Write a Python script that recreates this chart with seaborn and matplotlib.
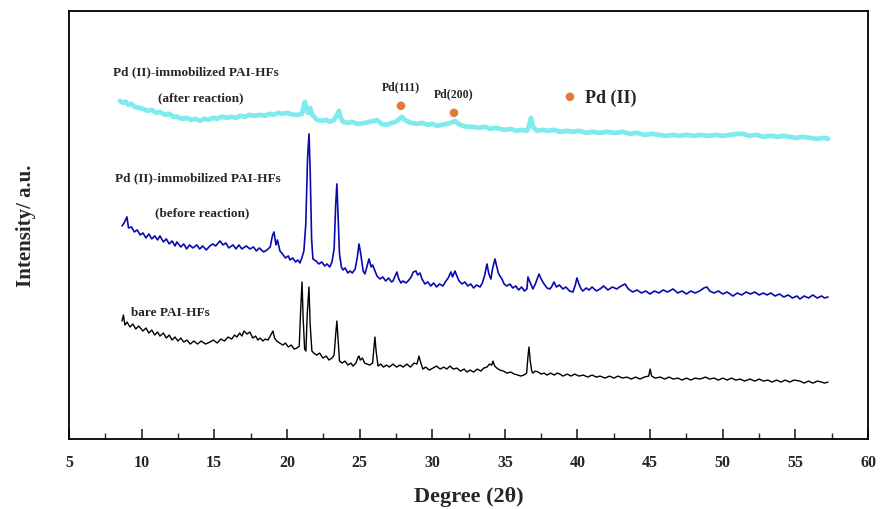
import matplotlib
matplotlib.use("Agg")
import matplotlib.pyplot as plt
import seaborn as sns
import numpy as np
from matplotlib.ticker import MultipleLocator

# XRD traces: (2theta, intensity a.u.) pairs
after_pts = [
    8.51, 338, 8.7, 336, 8.9, 337, 9.1, 334, 9.3, 335, 9.5, 332, 9.8, 331, 10.09, 330,
    10.4, 328, 10.7, 329, 11.0, 326, 11.26, 327, 11.6, 324, 11.9, 325, 12.2, 322, 12.43, 322,
    12.8, 320, 13.1, 321, 13.4, 319, 13.7, 320, 14.02, 318, 14.3, 320, 14.6, 319, 14.9, 321,
    15.2, 320, 15.5, 322, 15.87, 321, 16.2, 322, 16.5, 321, 16.8, 323, 17.1, 322, 17.4, 324,
    17.8, 323, 18.15, 324, 18.5, 323, 18.8, 325, 19.1, 324, 19.4, 326, 19.7, 325, 20.0, 326,
    20.21, 325, 20.5, 324, 20.8, 324, 21.04, 325, 21.14, 332, 21.24, 337, 21.34, 329, 21.45, 326,
    21.59, 331, 21.75, 324, 22.07, 319, 22.4, 318, 22.7, 319, 22.96, 317, 23.25, 319, 23.45, 324,
    23.58, 328, 23.7, 321, 23.86, 317, 24.2, 316, 24.5, 317, 24.8, 315, 25.03, 315, 25.4, 316,
    25.7, 317, 26.0, 318, 26.2, 319, 26.5, 315, 26.89, 314, 27.2, 316, 27.5, 317, 27.75, 320,
    27.92, 322, 28.1, 319, 28.5, 316, 28.95, 315, 29.3, 316, 29.7, 314, 30.0, 315, 30.33, 313,
    30.7, 314, 31.0, 315, 31.3, 316, 31.57, 318, 31.8, 315, 32.1, 313, 32.39, 312, 32.8, 312,
    33.2, 311, 33.6, 312, 34.0, 310, 34.3, 311, 34.66, 310, 35.0, 309, 35.4, 310, 35.8, 308,
    36.2, 309, 36.52, 308, 36.68, 314, 36.8, 321, 36.93, 312, 37.21, 308, 37.6, 309, 38.0, 308,
    38.4, 309, 38.8, 307, 39.27, 308, 39.7, 307, 40.1, 308, 40.6, 306, 41.0, 307, 41.55, 306,
    42.0, 307, 42.6, 306, 43.13, 307, 43.6, 305, 44.1, 306, 44.6, 304, 45.1, 305, 45.6, 304,
    46.1, 303, 46.57, 304, 47.0, 303, 47.5, 304, 48.0, 303, 48.5, 304, 49.0, 303, 49.5, 304,
    50.01, 303, 50.5, 304, 51.0, 305, 51.39, 305, 51.8, 303, 52.3, 304, 52.8, 302, 53.3, 303,
    53.8, 302, 54.2, 303, 54.62, 302, 55.0, 301, 55.5, 302, 56.0, 301, 56.5, 300, 57.0, 301,
    57.24, 300,
]

before_pts = [
    8.65, 213, 8.8, 216, 8.99, 222, 9.1, 211, 9.3, 212, 9.5, 207, 9.7, 209, 9.9, 204,
    10.09, 206, 10.3, 201, 10.5, 205, 10.7, 200, 10.9, 203, 11.1, 199, 11.26, 203, 11.5, 197,
    11.7, 200, 11.9, 195, 12.1, 198, 12.3, 193, 12.43, 197, 12.7, 192, 12.9, 195, 13.1, 190,
    13.3, 194, 13.53, 191, 13.8, 194, 14.0, 190, 14.2, 193, 14.45, 189, 14.7, 193, 14.9, 195,
    15.1, 193, 15.39, 198, 15.6, 194, 15.8, 196, 16.0, 191, 16.29, 194, 16.5, 190, 16.7, 194,
    16.9, 190, 17.2, 193, 17.46, 190, 17.7, 192, 17.9, 188, 18.1, 191, 18.4, 187, 18.63, 189,
    18.85, 192, 19.0, 203, 19.11, 207, 19.25, 194, 19.35, 199, 19.52, 188, 19.7, 185, 19.9, 181,
    20.1, 183, 20.21, 179, 20.4, 181, 20.6, 177, 20.75, 179, 20.9, 176, 21.05, 182, 21.17, 188,
    21.3, 215, 21.42, 280, 21.52, 305, 21.6, 270, 21.7, 200, 21.79, 180, 22.0, 178, 22.2, 175,
    22.4, 177, 22.6, 173, 22.76, 175, 22.95, 172, 23.1, 177, 23.25, 190, 23.36, 235, 23.44, 255,
    23.52, 225, 23.62, 185, 23.75, 172, 23.86, 169, 24.0, 171, 24.2, 166, 24.34, 168, 24.5, 166,
    24.7, 170, 24.85, 182, 24.96, 195, 25.05, 188, 25.15, 178, 25.25, 168, 25.37, 165, 25.5, 172,
    25.65, 180, 25.8, 172, 25.9, 174, 26.06, 168, 26.2, 163, 26.4, 160, 26.6, 162, 26.8, 158,
    27.0, 161, 27.2, 157, 27.3, 158, 27.45, 163, 27.57, 167, 27.7, 160, 27.85, 156, 27.99, 158,
    28.2, 156, 28.4, 159, 28.55, 162, 28.7, 167, 28.88, 168, 29.0, 164, 29.16, 166, 29.3, 160,
    29.5, 155, 29.7, 157, 29.9, 153, 30.1, 156, 30.3, 152, 30.5, 155, 30.74, 153, 30.9, 157,
    31.1, 161, 31.29, 167, 31.4, 162, 31.57, 168, 31.7, 163, 31.85, 158, 32.05, 155, 32.25, 157,
    32.45, 153, 32.65, 155, 32.85, 151, 33.05, 154, 33.29, 152, 33.45, 156, 33.6, 163, 33.77, 175,
    33.9, 165, 34.04, 160, 34.15, 170, 34.32, 180, 34.45, 172, 34.55, 166, 34.66, 163, 34.8, 160,
    34.95, 155, 35.14, 153, 35.35, 155, 35.55, 151, 35.75, 153, 35.95, 149, 36.15, 152, 36.35, 148,
    36.52, 150, 36.59, 162, 36.7, 158, 36.93, 150, 37.1, 155, 37.25, 161, 37.35, 165, 37.5, 160,
    37.7, 155, 37.9, 151, 38.1, 150, 38.25, 153, 38.38, 157, 38.55, 152, 38.75, 154, 39.0, 150,
    39.2, 152, 39.45, 148, 39.69, 147, 39.85, 154, 39.96, 161, 40.1, 155, 40.25, 150, 40.37, 148,
    40.6, 151, 40.8, 149, 41.0, 152, 41.3, 148, 41.55, 150, 41.8, 153, 42.1, 149, 42.4, 152,
    42.7, 150, 43.0, 153, 43.27, 155, 43.5, 150, 43.8, 147, 44.1, 149, 44.4, 146, 44.7, 148,
    44.99, 145, 45.3, 148, 45.6, 146, 45.9, 149, 46.2, 147, 46.57, 150, 46.9, 146, 47.2, 148,
    47.5, 145, 47.8, 148, 48.1, 146, 48.4, 148, 48.7, 151, 48.91, 152, 49.1, 148, 49.4, 146,
    49.7, 148, 50.0, 145, 50.3, 147, 50.7, 143, 51.0, 146, 51.3, 144, 51.6, 147, 51.9, 145,
    52.2, 147, 52.5, 144, 52.8, 146, 53.04, 144, 53.3, 146, 53.6, 143, 53.9, 145, 54.2, 142,
    54.5, 144, 54.8, 141, 55.1, 143, 55.31, 140, 55.6, 143, 55.9, 141, 56.2, 144, 56.5, 141,
    56.8, 143, 57.0, 141, 57.24, 142,
]

bare_pts = [
    8.65, 118, 8.75, 124, 8.85, 114, 9.0, 117, 9.2, 112, 9.4, 115, 9.6, 110, 9.8, 113,
    10.09, 108, 10.3, 111, 10.5, 106, 10.7, 109, 10.9, 104, 11.1, 107, 11.26, 103, 11.5, 106,
    11.7, 101, 11.9, 104, 12.1, 99, 12.3, 102, 12.5, 98, 12.7, 101, 12.9, 97, 13.12, 99,
    13.35, 95, 13.6, 98, 13.85, 95, 14.1, 98, 14.4, 95, 14.7, 97, 14.95, 99, 15.2, 96,
    15.45, 100, 15.7, 98, 15.95, 102, 16.2, 100, 16.4, 104, 16.56, 102, 16.75, 106, 16.9, 103,
    17.05, 108, 17.25, 105, 17.45, 107, 17.65, 101, 17.85, 103, 18.0, 99, 18.15, 101, 18.35, 98,
    18.5, 100, 18.7, 99, 18.85, 103, 19.04, 108, 19.15, 101, 19.3, 98, 19.5, 96, 19.73, 94,
    19.9, 96, 20.1, 92, 20.3, 94, 20.5, 90, 20.69, 91, 20.85, 93, 20.95, 130, 21.04, 157,
    21.12, 120, 21.22, 90, 21.31, 88, 21.4, 125, 21.52, 152, 21.6, 115, 21.72, 88, 21.85, 86,
    22.05, 84, 22.25, 86, 22.48, 81, 22.7, 83, 22.9, 79, 23.1, 81, 23.25, 84, 23.36, 105,
    23.44, 118, 23.52, 100, 23.62, 78, 23.8, 76, 24.0, 78, 24.2, 74, 24.4, 76, 24.55, 73,
    24.75, 76, 24.9, 82, 24.96, 83, 25.05, 79, 25.2, 81, 25.35, 76, 25.51, 75, 25.7, 74,
    25.9, 76, 25.98, 90, 26.06, 102, 26.14, 88, 26.27, 73, 26.45, 75, 26.65, 72, 26.85, 74,
    27.05, 72, 27.3, 75, 27.55, 72, 27.78, 74, 28.0, 72, 28.25, 75, 28.5, 72, 28.75, 76,
    28.95, 75, 29.09, 83, 29.2, 77, 29.36, 70, 29.55, 72, 29.8, 69, 30.05, 71, 30.3, 73,
    30.55, 70, 30.8, 72, 31.0, 70, 31.22, 73, 31.45, 70, 31.7, 71, 31.95, 68, 32.2, 70,
    32.39, 67, 32.6, 69, 32.85, 67, 33.1, 70, 33.35, 68, 33.55, 71, 33.77, 72, 33.95, 75,
    34.1, 74, 34.18, 78, 34.3, 73, 34.45, 71, 34.66, 69, 34.9, 68, 35.15, 66, 35.4, 67,
    35.65, 65, 35.9, 64, 36.1, 63, 36.3, 64, 36.5, 66, 36.6, 84, 36.66, 92, 36.75, 78,
    36.85, 68, 36.93, 66, 37.1, 68, 37.3, 67, 37.5, 65, 37.7, 66, 37.9, 64, 38.15, 66,
    38.4, 64, 38.6, 66, 38.79, 65, 39.0, 63, 39.3, 65, 39.55, 63, 39.8, 65, 40.1, 63,
    40.4, 64, 40.7, 62, 41.0, 64, 41.3, 62, 41.55, 63, 41.9, 61, 42.2, 63, 42.5, 61,
    42.8, 63, 43.1, 61, 43.4, 62, 43.7, 60, 44.0, 62, 44.3, 60, 44.6, 62, 44.9, 63,
    45.0, 70, 45.1, 63, 45.35, 61, 45.7, 62, 46.0, 60, 46.3, 62, 46.6, 60, 46.9, 61,
    47.2, 59, 47.5, 61, 47.8, 59, 48.1, 61, 48.43, 60, 48.8, 62, 49.1, 60, 49.4, 61,
    49.7, 59, 50.0, 61, 50.3, 59, 50.6, 61, 50.9, 59, 51.2, 60, 51.5, 58, 51.87, 60,
    52.2, 58, 52.5, 60, 52.8, 58, 53.1, 59, 53.4, 57, 53.7, 59, 54.0, 57, 54.3, 59,
    54.6, 57, 54.9, 59, 55.31, 58, 55.6, 56, 55.9, 58, 56.2, 56, 56.5, 58, 56.8, 57,
    57.0, 56, 57.24, 57,
]

# Pd reflection markers (2theta, y)
pd_labels = ["Pd(111)", "Pd(200)"]
pd_x = [27.85, 31.5]
pd_y = [333, 326]

after = np.array(after_pts).reshape(-1, 2)
before = np.array(before_pts).reshape(-1, 2)
bare = np.array(bare_pts).reshape(-1, 2)

sns.set_style("white")
plt.rcParams['font.family'] = ['Liberation Serif', 'DejaVu Serif']

fig = plt.figure(figsize=(8.84, 5.10), dpi=100)
ax = fig.add_axes([0.078, 0.137, 0.904, 0.84])

sns.lineplot(x=after[:, 0], y=after[:, 1], ax=ax, color='#7EEBEF', lw=3.4,
             estimator=None, sort=False)
sns.lineplot(x=before[:, 0], y=before[:, 1], ax=ax, color='#0A0AB0', lw=1.2,
             estimator=None, sort=False)
sns.lineplot(x=bare[:, 0], y=bare[:, 1], ax=ax, color='black', lw=1.0,
             estimator=None, sort=False)

# Pd markers
ax.scatter(pd_x, pd_y, s=38, color='#E07A3A', zorder=5, edgecolors='none')
ax.scatter([39.48], [342], s=38, color='#E07A3A', zorder=5, edgecolors='none')
for lab, xx, yy in zip(pd_labels, pd_x, pd_y):
    ax.text(xx, yy + 20, lab, ha='center', va='center', fontsize=8.5, fontweight='bold')
ax.text(40.5, 341, "Pd (II)", ha='left', va='center', fontsize=13, fontweight='bold')

# sample labels
ax.text(8.0, 368, "Pd (II)-immobilized PAI-HFs", fontsize=9.5, fontweight='bold', va='center')
ax.text(11.1, 342, "(after reaction)", fontsize=9.5, fontweight='bold', va='center')
ax.text(8.15, 262, "Pd (II)-immobilized PAI-HFs", fontsize=9.5, fontweight='bold', va='center')
ax.text(10.9, 227, "(before reaction)", fontsize=9.5, fontweight='bold', va='center')
ax.text(9.3, 127, "bare PAI-HFs", fontsize=9.5, fontweight='bold', va='center')

ax.set_xlim(5, 60)
ax.set_ylim(0, 428)
ax.xaxis.set_major_locator(MultipleLocator(5))
ax.xaxis.set_minor_locator(MultipleLocator(2.5))
ax.tick_params(axis='x', which='major', direction='in', length=7, width=1.2,
               bottom=True, top=False, labelsize=11.5, pad=11)
ax.tick_params(axis='x', which='minor', direction='in', length=4, width=1.0,
               bottom=True, top=False)
ax.set_yticks([])
for lab in ax.get_xticklabels():
    lab.set_fontweight('bold')
for sp in ax.spines.values():
    sp.set_visible(True)
    sp.set_color('black')
    sp.set_linewidth(1.3)

ax.set_xlabel("Degree (2θ)", fontsize=16, fontweight='bold', labelpad=11)
ax.set_ylabel("Intensity/ a.u.", fontsize=15, fontweight='bold', labelpad=24)

fig.savefig("out.png", dpi=100)
